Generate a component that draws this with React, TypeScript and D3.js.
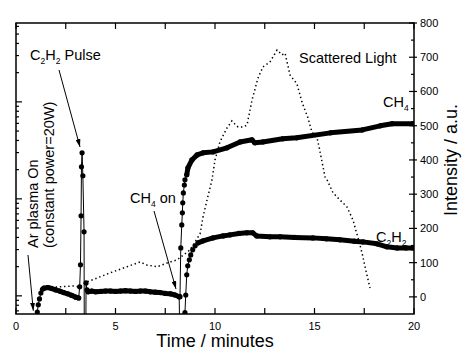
import React, { useEffect, useRef } from 'react';
import * as d3 from 'd3';

type Pt = [number, number]; // [time in minutes, intensity]

// C2H2 signal (left, log axis)
const c2h2Onset: Pt[] = [[1.07, 0.68], [1.12, 0.81], [1.18, 0.93], [1.25, 1.07], [1.33, 1.17]];
const c2h2Early: Pt[] = [
  [1.4, 1.2], [1.6, 1.22], [1.8, 1.19], [2.0, 1.15], [2.2, 1.12], [2.4, 1.08],
  [2.6, 1.05], [2.8, 1.01], [3.0, 0.97], [3.15, 0.95],
];
const c2h2Pulse: Pt[] = [
  [3.2, 1.24], [3.24, 2.09], [3.27, 6.68], [3.29, 21.4], [3.32, 29.8], [3.36, 17.3],
  [3.42, 4.57], [3.46, 0.001], [3.52, 1.36], [3.57, 1.15],
];
const c2h2Base: Pt[] = [
  [3.62, 1.1], [3.8, 1.12], [4.0, 1.1], [4.25, 1.11], [4.5, 1.12], [4.75, 1.12], [5.0, 1.11],
  [5.25, 1.12], [5.5, 1.13], [5.75, 1.12], [6.0, 1.11], [6.25, 1.12], [6.5, 1.12], [6.75, 1.1],
  [7.0, 1.09], [7.25, 1.08], [7.5, 1.06], [7.75, 1.05], [8.0, 1.02], [8.2, 0.98],
];
const c2h2Rise: Pt[] = [
  [8.42, 0.001], [8.49, 0.67], [8.53, 1.02], [8.58, 1.65], [8.63, 2.04], [8.71, 2.35],
  [8.78, 2.64], [8.88, 2.98], [9.0, 3.28],
];
const c2h2Plateau: Pt[] = [
  [9.15, 3.52], [9.4, 3.69], [9.9, 3.96], [10.4, 4.15], [10.75, 4.25], [11.2, 4.4], [11.6, 4.46],
  [11.9, 4.46], [12.1, 4.15], [12.76, 4.06], [13.27, 4.06], [14.0, 4.0], [14.92, 3.96], [15.6, 3.87],
  [16.28, 3.78], [17.0, 3.66], [17.44, 3.6], [18.14, 3.44], [18.64, 3.2], [19.15, 3.12],
  [19.6, 3.12], [19.95, 3.12],
];

// CH4 signal (left, log axis)
const ch4Rise: Pt[] = [
  [8.24, 0.98], [8.28, 3.12], [8.33, 5.39], [8.36, 7.17], [8.38, 9.1], [8.41, 11.5],
  [8.46, 13.9], [8.49, 15.7],
];
const ch4Plateau: Pt[] = [
  [8.58, 17.7], [8.64, 20.9], [8.84, 25.2], [9.1, 28.4], [9.4, 29.8], [9.9, 30.5], [10.6, 33.6],
  [11.26, 38.6], [11.86, 40.6], [12.0, 37.8], [12.4, 38.6], [13.4, 41.6], [14.1, 42.6],
  [15.8, 47.9], [17.4, 51.4], [18.3, 56.6], [18.9, 59.5], [19.95, 59.5],
];

// Scattered light (right axis)
const scattered: Pt[] = [
  [1.36, 29], [2.11, 29], [2.86, 32], [3.22, 29], [3.57, 44], [4.07, 55], [4.72, 70], [5.58, 88],
  [6.23, 102], [6.58, 93], [7.09, 88], [7.59, 99], [8.09, 108], [8.74, 137], [9.25, 184],
  [9.4, 234], [9.6, 283], [9.85, 342], [10.0, 400], [10.25, 453], [10.6, 493], [10.85, 514],
  [11.0, 505], [11.16, 496], [11.41, 496], [11.61, 502], [11.86, 575], [12.16, 639], [12.41, 672],
  [12.76, 686], [13.12, 721], [13.37, 707], [13.52, 712], [13.77, 648], [14.12, 622], [14.37, 569],
  [14.67, 523], [14.87, 482], [15.13, 464], [15.23, 438], [15.53, 350], [15.63, 342], [15.93, 304],
  [16.28, 283], [16.63, 263], [16.93, 225], [17.19, 172], [17.39, 128], [17.54, 88], [17.69, 50],
  [17.79, 26],
];

const timeTicks = d3.range(0, 20.01, 2.5);
const timeLabels = [0, 5, 10, 15, 20];
const rightMajor = d3.range(0, 801, 100);
const rightMinor = d3.range(50, 751, 100);

const FONT = 'Liberation Sans, Arial, Helvetica, sans-serif';
const W = 463;
const H = 359;
const plot = { left: 16, right: 414, top: 23, bottom: 314 };

export default function App() {
  const svgRef = useRef<SVGSVGElement>(null);

  useEffect(() => {
    if (!svgRef.current) return;
    const svg = d3.select(svgRef.current);
    svg.selectAll('*').remove();

    const x = d3.scaleLinear().domain([0, 20]).range([plot.left, plot.right]);
    const yL = d3.scaleLog().domain([0.65, 650]).range([plot.bottom, plot.top]);
    const yR = d3.scaleLinear().domain([-50, 800]).range([plot.bottom, plot.top]);

    const defs = svg.append('defs');
    defs.append('clipPath').attr('id', 'plot-clip')
      .append('rect')
      .attr('x', plot.left).attr('y', plot.top)
      .attr('width', plot.right - plot.left).attr('height', plot.bottom - plot.top);
    defs.append('marker')
      .attr('id', 'arrow')
      .attr('markerUnits', 'userSpaceOnUse')
      .attr('markerWidth', 8).attr('markerHeight', 5)
      .attr('refX', 8).attr('refY', 2.5)
      .attr('orient', 'auto')
      .append('path').attr('d', 'M0,0 L8,2.5 L0,5 Z').attr('fill', '#000');

    // --- data ---
    const data = svg.append('g').attr('clip-path', 'url(#plot-clip)');
    const lineL = d3.line<Pt>().x(d => x(d[0])).y(d => yL(d[1]));

    const drawSeries = (segments: { pts: Pt[]; dense: boolean }[]) => {
      const all = segments.flatMap(s => s.pts);
      data.append('path').attr('d', lineL(all)).attr('fill', 'none')
        .attr('stroke', '#000').attr('stroke-width', 1);
      segments.filter(s => s.dense).forEach(s => {
        data.append('path').attr('d', lineL(s.pts)).attr('fill', 'none')
          .attr('stroke', '#000').attr('stroke-width', 5)
          .attr('stroke-linejoin', 'round').attr('stroke-linecap', 'round');
      });
      data.selectAll(null).data(all.filter(d => d[1] > 0.01)).enter()
        .append('circle')
        .attr('cx', d => x(d[0])).attr('cy', d => yL(d[1]))
        .attr('r', 2.6).attr('fill', '#000');
    };

    drawSeries([
      { pts: c2h2Onset, dense: false },
      { pts: c2h2Early, dense: true },
      { pts: c2h2Pulse, dense: false },
      { pts: c2h2Base, dense: true },
      { pts: c2h2Rise, dense: false },
      { pts: c2h2Plateau, dense: true },
    ]);
    drawSeries([
      { pts: c2h2Base.slice(-1), dense: false },
      { pts: ch4Rise, dense: false },
      { pts: ch4Plateau, dense: true },
    ]);

    const lineR = d3.line<Pt>().x(d => x(d[0])).y(d => yR(d[1]));
    data.append('path').attr('d', lineR(scattered)).attr('fill', 'none')
      .attr('stroke', '#000').attr('stroke-width', 1.5)
      .attr('stroke-dasharray', '1.4 2.8');

    // --- frame & ticks ---
    const axes = svg.append('g').attr('stroke', '#000');
    axes.append('rect')
      .attr('x', plot.left).attr('y', plot.top)
      .attr('width', plot.right - plot.left).attr('height', plot.bottom - plot.top)
      .attr('fill', 'none').attr('stroke-width', 1.5);

    timeTicks.forEach(t => {
      axes.append('line').attr('x1', x(t)).attr('x2', x(t))
        .attr('y1', plot.bottom).attr('y2', plot.bottom - 6).attr('stroke-width', 1.2);
      axes.append('line').attr('x1', x(t)).attr('x2', x(t))
        .attr('y1', plot.top).attr('y2', plot.top + 6).attr('stroke-width', 1.2);
    });

    yL.ticks().filter(v => v >= 0.65 && v <= 650).forEach(v => {
      const major = Math.abs(Math.log10(v) - Math.round(Math.log10(v))) < 1e-6;
      axes.append('line').attr('x1', plot.left).attr('x2', plot.left + (major ? 6 : 3))
        .attr('y1', yL(v)).attr('y2', yL(v)).attr('stroke-width', 1.2);
    });

    rightMajor.forEach(v => {
      axes.append('line').attr('x1', plot.right - 5).attr('x2', plot.right + 3)
        .attr('y1', yR(v)).attr('y2', yR(v)).attr('stroke-width', 1.2);
    });
    rightMinor.forEach(v => {
      axes.append('line').attr('x1', plot.right - 3).attr('x2', plot.right)
        .attr('y1', yR(v)).attr('y2', yR(v)).attr('stroke-width', 1.2);
    });

    // --- labels ---
    const txt = svg.append('g').attr('font-family', FONT).attr('fill', '#000');
    timeLabels.forEach(t => {
      txt.append('text').attr('x', x(t)).attr('y', 330)
        .attr('text-anchor', 'middle').attr('font-size', 11).text(t);
    });
    rightMajor.forEach(v => {
      txt.append('text').attr('x', plot.right + 6).attr('y', yR(v) + 4)
        .attr('font-size', 11).text(v);
    });

    txt.append('text').attr('x', (plot.left + plot.right) / 2).attr('y', 347)
      .attr('text-anchor', 'middle').attr('font-size', 18).text('Time / minutes');
    txt.append('text').attr('transform', 'translate(457,160) rotate(-90)')
      .attr('text-anchor', 'middle').attr('font-size', 18).text('Intensity / a.u.');

    // chemical formula text with subscripts
    const chem = (x0: number, y0: number, parts: [string, boolean][], size = 14.5) => {
      const t = txt.append('text').attr('x', x0).attr('y', y0).attr('font-size', size);
      let down = false;
      parts.forEach(([s, sub]) => {
        const span = t.append('tspan').text(s);
        if (sub && !down) { span.attr('dy', 4).attr('font-size', 8.5); down = true; }
        else if (sub) { span.attr('font-size', 8.5); }
        else if (down) { span.attr('dy', -4); down = false; }
      });
      return t;
    };

    chem(30, 60, [['C', false], ['2', true], ['H', false], ['2', true], [' Pulse', false]]);
    chem(130, 203, [['CH', false], ['4', true], [' on', false]]);
    chem(383, 107, [['CH', false], ['4', true]]);
    chem(376, 242, [['C', false], ['2', true], ['H', false], ['2', true]]);
    txt.append('text').attr('x', 299).attr('y', 63).attr('font-size', 14.5).text('Scattered Light');

    txt.append('text').attr('transform', 'translate(38,248) rotate(-90)')
      .attr('font-size', 14.5).text('Ar plasma On');
    txt.append('text').attr('transform', 'translate(54,248) rotate(-90)')
      .attr('font-size', 14.5).text('(constant power=20W)');

    // --- arrows ---
    const arrows = [
      [59, 70, 80, 147],
      [28, 255, 33.3, 310.7],
      [154, 211, 176, 289],
    ];
    arrows.forEach(([x1, y1, x2, y2]) => {
      svg.append('line').attr('x1', x1).attr('y1', y1).attr('x2', x2).attr('y2', y2)
        .attr('stroke', '#000').attr('stroke-width', 1)
        .attr('marker-end', 'url(#arrow)');
    });
  }, []);

  return (
    <svg
      ref={svgRef}
      width={W}
      height={H}
      style={{ position: 'absolute', left: 0, top: 0, background: '#fff' }}
    />
  );
}
